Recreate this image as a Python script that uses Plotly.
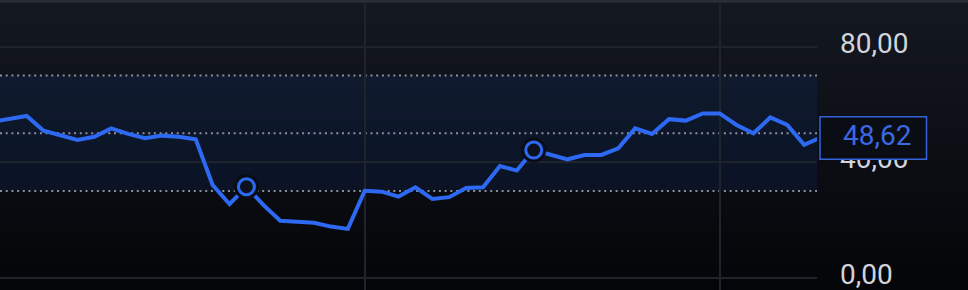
import plotly.graph_objects as go

# ---- data ----
rsi_values = [54.0, 54.9, 56.0, 50.9, 49.2, 47.7, 48.8, 51.7, 49.8, 48.3,
              49.2, 48.8, 47.9, 32.1, 25.5, 31.5, 25.2, 19.7, 19.4, 19.0,
              17.7, 16.9, 30.1, 29.8, 28.1, 31.3, 27.3, 27.9, 31.1, 31.3,
              38.7, 37.1, 44.2, 42.6, 41.0, 42.5, 42.5, 44.8, 51.7, 49.8,
              54.9, 54.4, 56.9, 56.9, 52.9, 50.0, 55.5, 52.9, 46.0, 48.62]
bar_index = list(range(len(rsi_values)))
marked_idx = [15, 32, 49]
y_ticks = [0, 40, 80]
levels = [30, 50, 70]
v_grid = [22, 43]

W, H = 968, 290
PLOT_W = 817

LINE = "#2d69f2"
fig = go.Figure()

fig.add_trace(go.Scatter(x=bar_index, y=rsi_values, mode="lines",
                         line=dict(color=LINE, width=4), hoverinfo="skip"))
mx = [bar_index[i] for i in marked_idx]
my = [rsi_values[i] for i in marked_idx]
fig.add_trace(go.Scatter(x=mx, y=my, mode="markers", cliponaxis=False,
                         marker=dict(size=25, color="#0a0d15", line=dict(width=0)),
                         hoverinfo="skip"))
fig.add_trace(go.Scatter(x=mx, y=my, mode="markers", cliponaxis=False,
                         marker=dict(size=16, color="#0c111d",
                                     line=dict(width=3, color=LINE)),
                         hoverinfo="skip"))

shapes = []
# background gradient
n = 58
top = (20, 24, 33)
bot = (4, 5, 8)
xr = W / PLOT_W
for i in range(n):
    t = i / (n - 1)
    c = tuple(round(top[j] + (bot[j] - top[j]) * t) for j in range(3))
    shapes.append(dict(type="rect", xref="paper", yref="paper",
                       x0=0, x1=xr, y0=1 - (i + 1) / n - 0.002, y1=1 - i / n,
                       fillcolor="rgb(%d,%d,%d)" % c, line=dict(width=0),
                       layer="below"))
# band
shapes.append(dict(type="rect", xref="paper", yref="y", x0=0, x1=1,
                   y0=levels[0], y1=levels[-1],
                   fillcolor="rgba(20,100,255,0.085)", line=dict(width=0),
                   layer="between"))
for lv in levels:
    shapes.append(dict(type="line", xref="paper", yref="y", x0=0, x1=1,
                       y0=lv, y1=lv, line=dict(color="#8a909b", width=2, dash="2px,3.7px"),
                       layer="between"))
# top border
shapes.append(dict(type="rect", xref="paper", yref="paper", x0=0, x1=xr,
                   y0=1 - 2.5 / H, y1=1, fillcolor="#2a2e37", line=dict(width=0),
                   layer="above"))
# last value box
last = rsi_values[-1]
shapes.append(dict(type="rect", xref="paper", yref="y",
                   x0=820 / PLOT_W, x1=926.5 / PLOT_W,
                   y0=last - 7.6, y1=last + 7.1,
                   fillcolor="#0b0d14", line=dict(color="#3563db", width=1.5),
                   layer="above"))

fig.add_annotation(xref="paper", yref="y", x=840.5 / PLOT_W, y=last,
                   xanchor="left", yanchor="middle", yshift=2,
                   text=f"{last:.2f}".replace(".", ","), showarrow=False,
                   font=dict(family="Roboto", size=28, color="#3b69e3"))

fig.update_layout(
    width=W, height=H, margin=dict(l=0, r=W - PLOT_W, t=0, b=0),
    paper_bgcolor="#0a0c12", plot_bgcolor="rgba(0,0,0,0)",
    showlegend=False, shapes=shapes, separators=", ",
    font=dict(family="Roboto", size=28, color="#d1d4dc"),
    xaxis=dict(range=[0.42, 48.76], tickvals=v_grid, showticklabels=False,
               showgrid=True, gridcolor="#1f232c", gridwidth=1.5,
               zeroline=False, showline=False, ticks=""),
    yaxis=dict(range=[-4.26, 96.17], side="right", tickvals=y_ticks,
               tickformat=".2f", showgrid=True, gridcolor="#1f232c", gridwidth=1.5,
               zeroline=False, showline=False, ticks="",
               ticklabelstandoff=22, ticklabelshift=-4, ticklabeloverflow="allow",
               tickfont=dict(family="Roboto", size=28, color="#d1d4dc")),
)

fig.write_html("out.html")
